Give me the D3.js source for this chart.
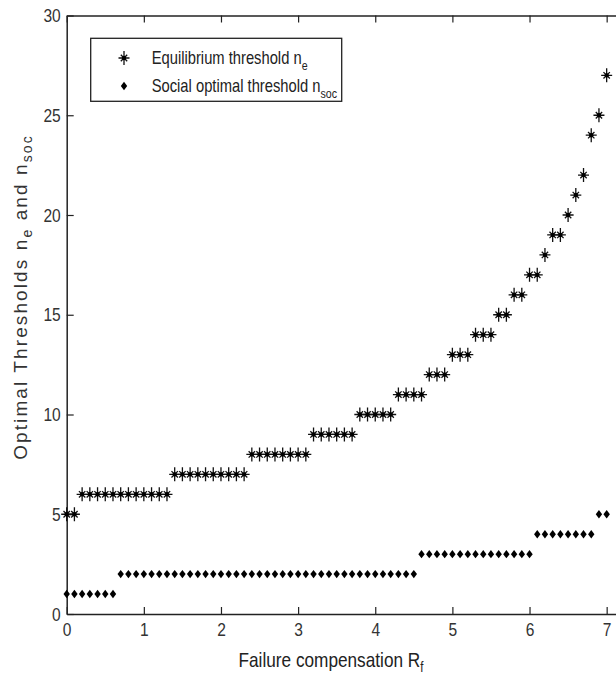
<!DOCTYPE html>
<html>
<head>
<meta charset="utf-8">
<script src="https://cdn.jsdelivr.net/npm/d3@7/dist/d3.min.js"></script>
<style>
  html, body { margin: 0; padding: 0; background: #fff; }
  svg { display: block; }
  text { font-family: "Liberation Sans", Arial, sans-serif; }
</style>
</head>
<body>
<svg id="chart"></svg>
<script>
// failure compensation R_f (x), step 0.1
const compensation = [
  0.0, 0.1, 0.2, 0.3, 0.4, 0.5, 0.6, 0.7, 0.8, 0.9,
  1.0, 1.1, 1.2, 1.3, 1.4, 1.5, 1.6, 1.7, 1.8, 1.9,
  2.0, 2.1, 2.2, 2.3, 2.4, 2.5, 2.6, 2.7, 2.8, 2.9,
  3.0, 3.1, 3.2, 3.3, 3.4, 3.5, 3.6, 3.7, 3.8, 3.9,
  4.0, 4.1, 4.2, 4.3, 4.4, 4.5, 4.6, 4.7, 4.8, 4.9,
  5.0, 5.1, 5.2, 5.3, 5.4, 5.5, 5.6, 5.7, 5.8, 5.9,
  6.0, 6.1, 6.2, 6.3, 6.4, 6.5, 6.6, 6.7, 6.8, 6.9,
  7.0
];

// equilibrium threshold n_e
const equilibrium = [
  5, 5, 6, 6, 6, 6, 6, 6, 6, 6,
  6, 6, 6, 6, 7, 7, 7, 7, 7, 7,
  7, 7, 7, 7, 8, 8, 8, 8, 8, 8,
  8, 8, 9, 9, 9, 9, 9, 9, 10, 10,
  10, 10, 10, 11, 11, 11, 11, 12, 12, 12,
  13, 13, 13, 14, 14, 14, 15, 15, 16, 16,
  17, 17, 18, 19, 19, 20, 21, 22, 24, 25,
  27
];

// social optimal threshold n_soc
const socialOptimal = [
  1, 1, 1, 1, 1, 1, 1, 2, 2, 2,
  2, 2, 2, 2, 2, 2, 2, 2, 2, 2,
  2, 2, 2, 2, 2, 2, 2, 2, 2, 2,
  2, 2, 2, 2, 2, 2, 2, 2, 2, 2,
  2, 2, 2, 2, 2, 2, 3, 3, 3, 3,
  3, 3, 3, 3, 3, 3, 3, 3, 3, 3,
  3, 4, 4, 4, 4, 4, 4, 4, 4, 5,
  5
];

const xTicks = [0, 1, 2, 3, 4, 5, 6, 7];
const yTicks = [0, 5, 10, 15, 20, 25, 30];

const width = 616, height = 679;
const svg = d3.select('#chart').attr('width', width).attr('height', height);

// x axis runs to 8, the right part is cut off by the picture edge
const x = d3.scaleLinear().domain([0, 8]).range([66.7, 683.8]);
const y = d3.scaleLinear().domain([0, 30]).range([614, 15.5]);

const axisColor = '#222';
const tickLen = 7;
const squeeze = 0.82; // fake a narrow face, none is installed

// squeeze a text horizontally around its own x
function narrow(sel) {
  sel.each(function () {
    const t = d3.select(this);
    const tx = +t.attr('x') || 0;
    t.attr('transform', `translate(${tx},0) scale(${squeeze},1) translate(${-tx},0)`);
  });
}

// ---------- axes (ticks pointing inward, matlab style) ----------
const styleAxis = g => {
  g.selectAll('.domain').attr('stroke', axisColor).attr('stroke-width', 1.5);
  g.selectAll('.tick line').attr('stroke', axisColor).attr('stroke-width', 1.2);
  g.selectAll('.tick text')
    .style('font-family', '"Liberation Sans", Arial, sans-serif')
    .style('font-size', '19px')
    .attr('fill', '#333')
    .call(narrow);
};

svg.append('g')
  .attr('transform', `translate(0,${y(0)})`)
  .call(d3.axisBottom(x).tickValues(xTicks).tickFormat(d3.format('d'))
    .tickSizeInner(-tickLen).tickSizeOuter(0).tickPadding(9))
  .call(styleAxis);

svg.append('g')
  .attr('transform', `translate(0,${y(30)})`)
  .call(d3.axisTop(x).tickValues(xTicks).tickFormat('')
    .tickSizeInner(-tickLen).tickSizeOuter(0))
  .call(styleAxis);

svg.append('g')
  .attr('transform', `translate(${x(0)},0)`)
  .call(d3.axisLeft(y).tickValues(yTicks).tickFormat(d3.format('d'))
    .tickSizeInner(-tickLen).tickSizeOuter(0).tickPadding(6))
  .call(styleAxis);

// ---------- markers ----------
const starPath = 'M0,-7L0,7M-5.5,0L5.5,0M-3.2,-3.2L3.2,3.2M-3.2,3.2L3.2,-3.2';
const diamondPath = 'M0,-4.2L3.2,0L0,4.2L-3.2,0Z';

function drawStar(sel) {
  sel.append('path').attr('d', starPath)
    .attr('stroke', '#111').attr('stroke-width', 1.3).attr('fill', 'none');
  sel.append('circle').attr('r', 2.2).attr('fill', '#000');
}

const pts = compensation.map((c, i) => ({ c, ne: equilibrium[i], ns: socialOptimal[i] }));

svg.append('g').selectAll('g')
  .data(pts)
  .join('g')
    .attr('transform', d => `translate(${x(d.c)},${y(d.ne)})`)
    .call(drawStar);

svg.append('g').selectAll('path')
  .data(pts)
  .join('path')
    .attr('d', diamondPath)
    .attr('transform', d => `translate(${x(d.c)},${y(d.ns)})`)
    .attr('fill', '#000');

// ---------- axis labels ----------
const xLabel = svg.append('text')
  .attr('x', 331).attr('y', 667)
  .attr('text-anchor', 'middle')
  .style('font-size', '21px')
  .attr('fill', '#222')
  .call(narrow);
xLabel.append('tspan').text('Failure compensation R');
xLabel.append('tspan').attr('dy', 5).style('font-size', '14px').text('f');

const yLabel = svg.append('text')
  .attr('transform', 'translate(27,297) rotate(-90)')
  .attr('text-anchor', 'middle')
  .style('font-size', '19px')
  .style('letter-spacing', '2.1px')
  .attr('fill', '#333');
yLabel.append('tspan').text('Optimal Thresholds n');
yLabel.append('tspan').attr('dy', 5).style('font-size', '14px').text('e');
yLabel.append('tspan').attr('dy', -5).text(' and n');
yLabel.append('tspan').attr('dy', 5).style('font-size', '14px').text('soc');

// ---------- legend ----------
const legend = svg.append('g');
legend.append('rect')
  .attr('x', 90.7).attr('y', 38.3)
  .attr('width', 251).attr('height', 63)
  .attr('fill', '#fff').attr('stroke', axisColor).attr('stroke-width', 1.3);

const legendItems = [
  { label: 'Equilibrium threshold n', sub: 'e', kind: 'star', ty: 64 },
  { label: 'Social optimal threshold n', sub: 'soc', kind: 'diamond', ty: 92 }
];

legendItems.forEach(item => {
  const m = legend.append('g').attr('transform', `translate(124,${item.ty - 6})`);
  if (item.kind === 'star') m.call(drawStar);
  else m.append('path').attr('d', diamondPath).attr('fill', '#000');

  const t = legend.append('text')
    .attr('x', 151.7).attr('y', item.ty)
    .style('font-size', '18px')
    .attr('fill', '#222')
    .call(narrow);
  t.append('tspan').text(item.label);
  t.append('tspan').attr('dy', 6).style('font-size', '13px').text(item.sub);
});
</script>
</body>
</html>
